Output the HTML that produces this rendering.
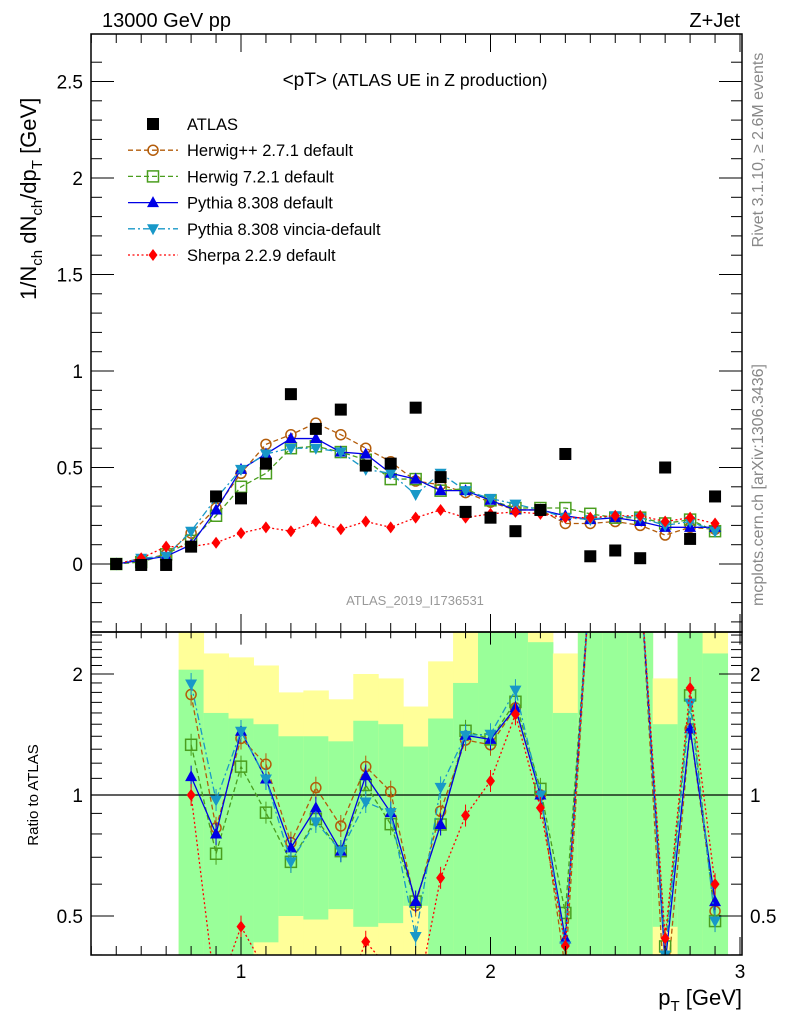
<!DOCTYPE html>
<html><head><meta charset="utf-8"><style>
html,body{margin:0;padding:0;background:#fff;width:786px;height:1024px;overflow:hidden;position:relative;}
svg{display:block;font-family:"Liberation Sans",sans-serif;}
</style></head><body>
<svg id="chart" width="786" height="1024" viewBox="0 0 786 1024" style="position:absolute;left:0;top:0"></svg>
<script>
const xs=[0.5,0.6,0.7,0.8,0.9,1.0,1.1,1.2,1.3,1.4,1.5,1.6,1.7,1.8,1.9,2.0,2.1,2.2,2.3,2.4,2.5,2.6,2.7,2.8,2.9];
const atlas=[0.00,-0.005,-0.005,0.09,0.35,0.34,0.52,0.88,0.70,0.80,0.51,0.52,0.81,0.45,0.27,0.24,0.17,0.28,0.57,0.04,0.07,0.03,0.50,0.13,0.35];
const herwigpp=[0.0,0.02,0.05,0.16,0.29,0.47,0.62,0.67,0.73,0.67,0.60,0.53,0.43,0.41,0.37,0.32,0.28,0.28,0.21,0.21,0.22,0.20,0.15,0.19,0.18];
const herwig7=[0.0,0.01,0.05,0.12,0.25,0.40,0.47,0.60,0.61,0.58,0.54,0.44,0.44,0.38,0.39,0.33,0.29,0.29,0.29,0.26,0.24,0.24,0.21,0.23,0.17];
const pythia=[0.0,0.02,0.04,0.10,0.28,0.49,0.57,0.65,0.65,0.58,0.57,0.47,0.44,0.38,0.38,0.33,0.28,0.28,0.25,0.23,0.24,0.22,0.19,0.19,0.19];
const vincia=[0.0,0.03,0.04,0.17,0.34,0.49,0.57,0.60,0.60,0.58,0.49,0.47,0.36,0.47,0.38,0.34,0.31,0.28,0.24,0.23,0.25,0.24,0.20,0.22,0.17];
const sherpa=[0.0,0.03,0.09,0.09,0.11,0.16,0.19,0.17,0.22,0.18,0.22,0.19,0.24,0.28,0.24,0.26,0.27,0.26,0.24,0.24,0.25,0.25,0.22,0.24,0.21];
const bandX=[0.8,0.9,1.0,1.1,1.2,1.3,1.4,1.5,1.6,1.7,1.8,1.9,2.0,2.1,2.2,2.3,2.4,2.5,2.6,2.7,2.8,2.9];
const yelHi=[3,2.25,2.2,2.1,1.8,1.82,1.73,2.0,1.95,1.66,2.15,3,3,3,3,2.25,3,3,3,1.95,3,3];
const greenHi=[2.05,1.6,1.55,1.5,1.4,1.4,1.36,1.53,1.5,1.32,1.55,1.9,3,2.6,2.4,1.6,3,3,3,1.5,3,2.25];
const greenLo=[0.38,0.38,0.38,0.43,0.5,0.49,0.52,0.47,0.48,0.53,0.4,0.38,0.38,0.38,0.38,0.38,0.38,0.38,0.38,0.47,0.38,0.38];
const yelLo=[0.38,0.38,0.38,0.38,0.38,0.38,0.38,0.38,0.38,0.38,0.38,0.38,0.38,0.38,0.38,0.38,0.38,0.38,0.38,0.38,0.38,0.38];
const yTicks=[0,0.5,1,1.5,2,2.5];
const yTickLabels=["0","0.5","1","1.5","2","2.5"];
const xTicks=[1,2,3];
const xTickLabels=["1","2","3"];
const rTicks=[0.5,1,2];
const rTickLabels=["0.5","1","2"];

const NS="http://www.w3.org/2000/svg";
const svg=document.getElementById('chart');
const L=91,R=742,T=34,MB=632,RB=955;
const X=v=>241+(v-1)*249.5;
const Y=v=>564-v*193;
const RY=v=>795-Math.log2(v)*121;
function mk(tag,attrs,parent){const e=document.createElementNS(NS,tag);for(const k in attrs)e.setAttribute(k,attrs[k]);(parent||svg).appendChild(e);return e;}
function txt(s,attrs,parent){const e=mk('text',attrs,parent);e.textContent=s;return e;}

const defs=mk('defs',{});
const c1=mk('clipPath',{id:'cm'},defs);mk('rect',{x:L,y:T,width:R-L,height:MB-T},c1);
const c2=mk('clipPath',{id:'cr'},defs);mk('rect',{x:L,y:MB,width:R-L,height:RB-MB},c2);

const gb=mk('g',{'clip-path':'url(#cr)'});


bandX.forEach((b,i)=>{
  const x0=X(b-0.05),w=X(b+0.05)-x0;
  const ry=mk('rect',{x:x0,y:RY(yelHi[i]),width:w+0.5,height:RY(yelLo[i])-RY(yelHi[i]),fill:'#ffff99'},gb);
  
  
  const rg=mk('rect',{x:x0,y:RY(greenHi[i]),width:w+0.5,height:RY(greenLo[i])-RY(greenHi[i]),fill:'#99ff99'},gb);
  
  
});
mk('line',{x1:L,x2:R,y1:RY(1),y2:RY(1),stroke:'#000','stroke-width':1.3});

const series=[
 {name:'herwigpp',d:herwigpp,c:'#b35c0a',dash:'5,3',m:'circle'},
 {name:'herwig7',d:herwig7,c:'#4a9e1e',dash:'5,3',m:'square'},
 {name:'pythia',d:pythia,c:'#0000e6',dash:'',m:'tri'},
 {name:'vincia',d:vincia,c:'#1898c8',dash:'7,3,2,3',m:'dtri'},
 {name:'sherpa',d:sherpa,c:'#ff0000',dash:'2,2.5',m:'diamond'}
];
function marker(type,x,y,c,g){
  let e;
  if(type==='circle')e=mk('circle',{cx:x,cy:y,r:5,fill:'#fff','fill-opacity':0,stroke:c,'stroke-width':1.5},g);
  else if(type==='square')e=mk('rect',{x:x-5.5,y:y-5.5,width:11,height:11,fill:'none',stroke:c,'stroke-width':1.5},g);
  else if(type==='tri')e=mk('polygon',{points:`${x},${y-6.5} ${x-6},${y+4.5} ${x+6},${y+4.5}`,fill:c},g);
  else if(type==='dtri')e=mk('polygon',{points:`${x},${y+6.5} ${x-6},${y-4.5} ${x+6},${y-4.5}`,fill:c},g);
  else if(type==='diamond')e=mk('polygon',{points:`${x},${y-6} ${x-4.5},${y} ${x},${y+6} ${x+4.5},${y}`,fill:c},g);
  else e=mk('rect',{x:x-6,y:y-6,width:12,height:12,fill:'#000'},g);
  
  
  return e;
}
const gm=mk('g',{'clip-path':'url(#cm)'});


series.forEach(s=>{
  const g=mk('g',{},gm);
  
  
  mk('polyline',{points:xs.map((x,i)=>X(x)+','+Y(s.d[i])).join(' '),fill:'none',stroke:s.c,'stroke-width':1.3,'stroke-dasharray':s.dash},g);
  xs.forEach((x,i)=>marker(s.m,X(x),Y(s.d[i]),s.c,g));
});
const ga=mk('g',{},gm);


xs.forEach((x,i)=>marker('sq',X(x),Y(atlas[i]),'#000',ga));

const gr=mk('g',{'clip-path':'url(#cr)'});


series.forEach(s=>{
  const g=mk('g',{},gr);
  
  
  const pts=[];
  xs.forEach((x,i)=>{if(x>=0.79){let r=s.d[i]/atlas[i];r=Math.min(Math.max(r,0.3),3.5);pts.push([X(x),RY(r)]);}});
  mk('polyline',{points:pts.map(p=>p.join(',')).join(' '),fill:'none',stroke:s.c,'stroke-width':1.3,'stroke-dasharray':s.dash},g);
  pts.forEach(p=>{mk('line',{x1:p[0],x2:p[0],y1:p[1]-11,y2:p[1]+11,stroke:s.c,'stroke-width':1},g);marker(s.m,p[0],p[1],s.c,g);});
});

mk('rect',{x:L,y:T,width:R-L,height:MB-T,fill:'none',stroke:'#000','stroke-width':1.5});
mk('rect',{x:L,y:MB,width:R-L,height:RB-MB,fill:'none',stroke:'#000','stroke-width':1.5});

for(let v=-0.3;v<=2.7;v+=0.1){const vv=Math.round(v*10)/10;const maj=Math.abs(vv*2-Math.round(vv*2))<1e-6;const len=maj?23:11;
  mk('line',{x1:L,x2:L+len,y1:Y(vv),y2:Y(vv),stroke:'#000','stroke-width':1});
  mk('line',{x1:R,x2:R-len,y1:Y(vv),y2:Y(vv),stroke:'#000','stroke-width':1});}
yTicks.forEach((v,i)=>{const t=txt(yTickLabels[i],{x:L-8,y:Y(v)+7,'font-size':19,'text-anchor':'end'});
  });
for(let v=0.4;v<=3.0001;v+=0.1){const vv=Math.round(v*10)/10;const maj=Math.abs(vv-Math.round(vv))<1e-6;const len=maj?18:9;const x=X(vv);if(x<L||x>R)continue;
  mk('line',{x1:x,x2:x,y1:T,y2:T+len,stroke:'#000','stroke-width':1});
  mk('line',{x1:x,x2:x,y1:MB,y2:MB-len,stroke:'#000','stroke-width':1});
  mk('line',{x1:x,x2:x,y1:MB,y2:MB+len*0.7,stroke:'#000','stroke-width':1});
  mk('line',{x1:x,x2:x,y1:RB,y2:RB-len,stroke:'#000','stroke-width':1});}
xTicks.forEach((v,i)=>{const t=txt(xTickLabels[i],{x:X(v),y:978,'font-size':19,'text-anchor':'middle'});
  });
[0.4,0.5,0.6,0.7,0.8,0.9,1,1.1,1.2,1.3,1.4,1.5,1.6,1.7,1.8,1.9,2,2.1,2.2,2.3,2.4,2.5].forEach(v=>{
  const maj=rTicks.includes(v);const len=maj?23:11;const y=RY(v);if(y<MB||y>RB)return;
  mk('line',{x1:L,x2:L+len,y1:y,y2:y,stroke:'#000','stroke-width':1});
  mk('line',{x1:R,x2:R-len,y1:y,y2:y,stroke:'#000','stroke-width':1});});
rTicks.forEach((v,i)=>{
  const a=txt(rTickLabels[i],{x:L-8,y:RY(v)+7,'font-size':19,'text-anchor':'end'});
  
  const b=txt(rTickLabels[i],{x:R+8,y:RY(v)+7,'font-size':19,'text-anchor':'start'});
  });

const leg=mk('g',{});


const legNames=['ATLAS','Herwig++ 2.7.1 default','Herwig 7.2.1 default','Pythia 8.308 default','Pythia 8.308 vincia-default','Sherpa 2.2.9 default'];
legNames.forEach((n,i)=>{
  const y=124+i*26.2;
  const g=mk('g',{},leg);
  
  
  if(i===0)marker('sq',153,y,'#000',g);
  else{const s=series[i-1];mk('line',{x1:128,x2:178,y1:y,y2:y,stroke:s.c,'stroke-width':1.3,'stroke-dasharray':s.dash},g);marker(s.m,153,y,s.c,g);}
  txt(n,{x:187,y:y+6,'font-size':16.5},g);
});
</script>
<svg width="786" height="1024" style="position:absolute;left:0;top:0;font-family:'Liberation Sans',sans-serif">
<text x="102" y="27" font-size="20">13000 GeV pp</text>
<text x="740" y="27" font-size="20" text-anchor="end">Z+Jet</text>
<text x="415" y="86" font-size="17.5" text-anchor="middle"><tspan font-size="19">&lt;pT&gt;</tspan> (ATLAS UE in Z production)</text>
<text x="415" y="605" font-size="13" fill="#999" text-anchor="middle">ATLAS_2019_I1736531</text>
<text transform="translate(763,150) rotate(-90)" font-size="16" fill="#888" text-anchor="middle">Rivet 3.1.10, ≥ 2.6M events</text>
<text transform="translate(763,485) rotate(-90)" font-size="16" fill="#888" text-anchor="middle">mcplots.cern.ch [arXiv:1306.3436]</text>
<text transform="translate(36,300) rotate(-90)" font-size="22">1/N<tspan font-size="15" dy="6">ch</tspan><tspan dy="-6"> dN</tspan><tspan font-size="15" dy="6">ch</tspan><tspan dy="-6">/dp</tspan><tspan font-size="15" dy="6">T</tspan><tspan dy="-6"> [GeV]</tspan></text>
<text transform="translate(38,795) rotate(-90)" font-size="15" text-anchor="middle">Ratio to ATLAS</text>
<text x="742" y="1005" font-size="22" text-anchor="end">p<tspan font-size="15" dy="6">T</tspan><tspan dy="-6"> [GeV]</tspan></text>
</svg>
</body></html>
